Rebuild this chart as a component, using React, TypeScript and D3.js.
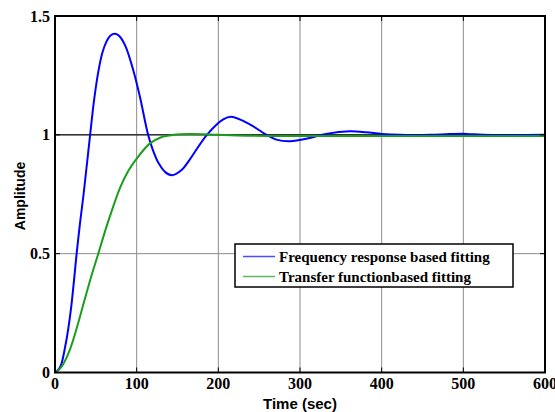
import React from 'react';
import * as d3 from 'd3';

// time (sec) / amplitude
const freqT = [0, 5, 8, 12, 16, 20, 26.5, 30, 35, 43, 48, 53, 58, 63, 68, 73.5, 79, 86, 96, 104, 114, 120, 127, 135, 143, 155, 165, 186, 206, 216, 239, 259, 271, 288, 312, 332, 361, 381, 400, 422, 460, 483, 504, 524, 600];
const freqAmp = [0, 0.015, 0.038, 0.1, 0.178, 0.28, 0.5, 0.61, 0.75, 1.0, 1.15, 1.265, 1.345, 1.392, 1.418, 1.425, 1.415, 1.375, 1.27, 1.16, 1.0, 0.935, 0.88, 0.843, 0.83, 0.852, 0.896, 1.0, 1.065, 1.076, 1.043, 1.0, 0.98, 0.973, 0.987, 1.004, 1.015, 1.011, 1.004, 1.0, 1.0, 1.003, 1.004, 1.0, 1.0];

const tfT = [0, 5, 10, 18, 26, 35, 44, 53, 60, 67, 80, 90, 100, 116, 130, 145, 165, 200, 240, 280, 600];
const tfAmp = [0, 0.012, 0.035, 0.094, 0.18, 0.29, 0.4, 0.5, 0.58, 0.655, 0.78, 0.85, 0.9, 0.963, 0.99, 1.0, 1.003, 1.0, 0.996, 0.995, 0.995];

const xTicks = [0, 100, 200, 300, 400, 500, 600];
const yTicks = [0, 0.5, 1, 1.5];
const yTickLabels = ['0', '0.5', '1', '1.5'];

const seriesNames = ['Frequency response based fitting', 'Transfer functionbased fitting'];
const seriesColors = ['#0000ff', '#1a9e1a'];

const W = 555;
const H = 412;
const left = 55;
const right = 545;
const top = 16;
const bottom = 372.5;

export default function App() {
  const x = d3.scaleLinear().domain([0, 600]).range([left, right]);
  const y = d3.scaleLinear().domain([0, 1.5]).range([bottom, top]);

  const line = d3
    .line<[number, number]>()
    .x((d) => x(d[0]))
    .y((d) => y(d[1]))
    .curve(d3.curveCatmullRom.alpha(0.5));

  const series = [
    freqT.map((t, i) => [t, freqAmp[i]] as [number, number]),
    tfT.map((t, i) => [t, tfAmp[i]] as [number, number]),
  ];

  const serif = '"Liberation Serif", "Times New Roman", serif';
  const sans = '"Liberation Sans", Arial, sans-serif';

  return (
    <svg width={W} height={H} style={{ position: 'absolute', left: 0, top: 0, background: '#fff' }}>
      {/* grid */}
      {xTicks.slice(1, -1).map((t) => (
        <line key={'gx' + t} x1={x(t)} x2={x(t)} y1={top} y2={bottom} stroke="#8c8c8c" strokeWidth={1} />
      ))}
      {yTicks.slice(1, -1).map((t) => (
        <line key={'gy' + t} x1={left} x2={right} y1={y(t)} y2={y(t)} stroke="#8c8c8c" strokeWidth={1} />
      ))}
      {/* steady state line */}
      <line x1={left} x2={right} y1={y(1)} y2={y(1)} stroke="#333" strokeWidth={1.5} />

      {/* curves */}
      {series.map((s, i) => (
        <path key={i} d={line(s) ?? ''} fill="none" stroke={seriesColors[i]} strokeWidth={2} />
      ))}

      {/* inside ticks */}
      {xTicks.map((t) => (
        <g key={'tx' + t}>
          <line x1={x(t)} x2={x(t)} y1={bottom} y2={bottom - 5} stroke="#000" />
          <line x1={x(t)} x2={x(t)} y1={top} y2={top + 5} stroke="#000" />
        </g>
      ))}
      {yTicks.map((t) => (
        <g key={'ty' + t}>
          <line x1={left} x2={left + 5} y1={y(t)} y2={y(t)} stroke="#000" />
          <line x1={right} x2={right - 5} y1={y(t)} y2={y(t)} stroke="#000" />
        </g>
      ))}

      {/* box */}
      <rect x={left} y={top} width={right - left} height={bottom - top} fill="none" stroke="#000" strokeWidth={2} />

      {/* tick labels (600 is clipped by the right edge, as in the reference) */}
      {xTicks.map((t) => (
        <text key={'lx' + t} x={x(t)} y={bottom + 16} textAnchor="middle" fontFamily={serif} fontWeight="bold" fontSize={16}>
          {t}
        </text>
      ))}
      {yTicks.map((t, i) => (
        <text key={'ly' + t} x={left - 5} y={y(t)} dy="0.35em" textAnchor="end" fontFamily={serif} fontWeight="bold" fontSize={16}>
          {yTickLabels[i]}
        </text>
      ))}

      {/* axis titles */}
      <text x={(left + right) / 2} y={409} textAnchor="middle" fontFamily={sans} fontWeight="bold" fontSize={15}>
        Time (sec)
      </text>
      <text transform="translate(25,196) rotate(-90)" textAnchor="middle" fontFamily={sans} fontWeight="bold" fontSize={14}>
        Amplitude
      </text>

      {/* legend */}
      <g transform="translate(235,244)">
        <rect x={0} y={0} width={278} height={43} fill="#fff" stroke="#000" strokeWidth={1.5} />
        {seriesNames.map((name, i) => (
          <g key={name} transform={`translate(0,${12.5 + i * 20})`}>
            <line x1={8} x2={40} y1={0} y2={0} stroke={seriesColors[i]} strokeWidth={1.5} opacity={0.7} />
            <text x={44} y={0} dy="0.35em" fontFamily={serif} fontWeight="bold" fontSize={15}>
              {name}
            </text>
          </g>
        ))}
      </g>
    </svg>
  );
}
